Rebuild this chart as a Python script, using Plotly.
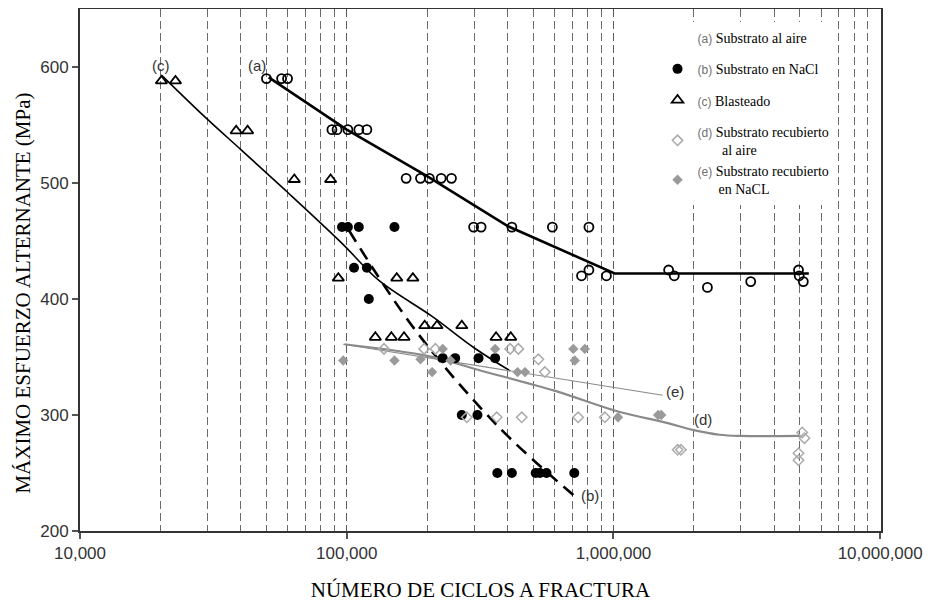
import math
import plotly.graph_objects as go

# ---------------- data ----------------
# (a) Substrato al aire  - open black circles
a_cycles = [50000, 57000, 60000, 88000, 92000, 101000, 111000, 119000,
            167000, 189000, 204000, 226000, 247000, 299000, 319000, 416000,
            590000, 809000, 759000, 809000, 941000, 1610000, 1690000, 2250000,
            3270000, 4940000, 4970000, 5150000]
a_stress = [590, 590, 590, 546, 546, 546, 546, 546,
            504, 504, 504, 504, 504, 462, 462, 462,
            462, 462, 420, 425, 420, 425, 420, 410,
            415, 425, 420, 415]

# (b) Substrato en NaCl - filled black circles
b_cycles = [96000, 101000, 111000, 151000, 106500, 119000, 121000,
            229000, 255000, 312000, 360000, 270000, 309000,
            367000, 416000, 511000, 530000, 561000, 713000]
b_stress = [462, 462, 462, 462, 427, 427, 400,
            349, 349, 349, 349, 300, 300,
            250, 250, 250, 250, 250, 250]

# (c) Blasteado - open triangles
c_cycles = [20200, 22800, 38500, 42500, 63600, 87000, 93000, 154000, 177000,
            196000, 218000, 270000, 128000, 147000, 164000, 363000, 412000]
c_stress = [588, 588, 545, 545, 503, 503, 418, 418, 418,
            377, 377, 377, 367, 367, 367, 367, 367]

# (d) Substrato recubierto al aire - open light-gray diamonds
d_cycles = [138000, 195000, 215000, 282000, 365000, 410000, 440000, 453000,
            523000, 553000, 737000, 928000, 1740000, 1790000, 5100000,
            5200000, 4940000, 4940000]
d_stress = [357, 357, 357, 298, 298, 357, 357, 298,
            348, 337, 298, 298, 270, 270, 285,
            280, 267, 261]

# (e) Substrato recubierto en NaCL - filled gray diamonds
e_cycles = [97000, 151000, 189000, 209000, 229000, 245000, 360000, 437000,
            466000, 707000, 781000, 716000, 1040000, 1470000, 1510000]
e_stress = [347, 347, 348, 337, 357, 347, 357, 337,
            337, 357, 357, 347, 298, 300, 300]

# fitted curves
curve_a_cycles = [51000, 100000, 200000, 400000, 1010000, 5400000]
curve_a_stress = [591, 546, 506, 463, 422, 422]

curve_b_cycles = [102000, 181000, 370000, 707000]
curve_b_stress = [459, 373, 290, 231]

curve_c_cycles = [20200, 30000, 40000, 60000, 96000, 132000, 209000, 300000, 410000]
curve_c_stress = [593, 555, 529, 492, 448, 416, 385, 358, 338]

curve_d_cycles = [98000, 200000, 310000, 600000, 1040000, 1600000, 2000000,
                  2500000, 3000000, 5000000]
curve_d_stress = [361, 351, 339, 321, 303, 293, 287, 283, 282, 282]

curve_e_cycles = [97000, 1530000]
curve_e_stress = [361, 317]

# axis ticks
x_tick_vals = [1e4, 1e5, 1e6, 1e7]
x_tick_text = ["10,000", "100,000", "1,000,000", "10,000,000"]
y_tick_vals = [200, 300, 400, 500, 600]

legend_tags = ["(a)", "(b)", "(c)", "(d)", "(e)"]
legend_names = ["Substrato al aire", "Substrato en NaCl", "Blasteado",
                "Substrato recubierto<br>\u00a0\u00a0\u00a0\u00a0\u00a0\u00a0\u00a0al aire",
                "Substrato recubierto<br>\u00a0\u00a0\u00a0\u00a0\u00a0\u00a0en NaCL"]

# ---------------- figure ----------------
SANS = "Liberation Sans, Arial, sans-serif"
SERIF = "Liberation Serif, Times New Roman, serif"


def lname(i):
    return ('<span style="font-family:Liberation Sans;font-size:12px;color:#707070">'
            + legend_tags[i] + '</span> ' + legend_names[i])


fig = go.Figure()

# curves
fig.add_trace(go.Scatter(x=curve_a_cycles, y=curve_a_stress, mode="lines",
                         line=dict(color="black", width=2.6), showlegend=False, hoverinfo="skip"))
fig.add_trace(go.Scatter(x=curve_c_cycles, y=curve_c_stress, mode="lines",
                         line=dict(color="black", width=1.6, shape="spline"),
                         showlegend=False, hoverinfo="skip"))
fig.add_trace(go.Scatter(x=curve_b_cycles, y=curve_b_stress, mode="lines",
                         line=dict(color="black", width=2.6, dash="13px,8px", shape="spline"),
                         showlegend=False, hoverinfo="skip"))
fig.add_trace(go.Scatter(x=curve_d_cycles, y=curve_d_stress, mode="lines",
                         line=dict(color="#8a8a8a", width=2.2, shape="spline"),
                         showlegend=False, hoverinfo="skip"))
fig.add_trace(go.Scatter(x=curve_e_cycles, y=curve_e_stress, mode="lines",
                         line=dict(color="#8a8a8a", width=1.1),
                         showlegend=False, hoverinfo="skip"))

# (a) legend entry without visible symbol (as in the original)
fig.add_trace(go.Scatter(x=[None], y=[None], mode="markers", name=lname(0),
                         marker=dict(symbol="circle-open", size=9, color="rgba(0,0,0,0)"),
                         legendgroup="a"))
fig.add_trace(go.Scatter(x=a_cycles, y=a_stress, mode="markers", showlegend=False,
                         marker=dict(symbol="circle-open", size=9, color="black",
                                     line=dict(width=1.8))))
fig.add_trace(go.Scatter(x=b_cycles, y=b_stress, mode="markers", name=lname(1),
                         legendgroup="b",
                         marker=dict(symbol="circle", size=10, color="black")))
fig.add_trace(go.Scatter(x=c_cycles, y=c_stress, mode="markers", name=lname(2),
                         legendgroup="c",
                         marker=dict(symbol="triangle-up-open", size=10, color="black",
                                     line=dict(width=1.8))))
fig.add_trace(go.Scatter(x=d_cycles, y=d_stress, mode="markers", name=lname(3),
                         legendgroup="de",
                         marker=dict(symbol="diamond-open", size=8, color="#ababab",
                                     line=dict(width=1.5))))
fig.add_trace(go.Scatter(x=e_cycles, y=e_stress, mode="markers", name=lname(4),
                         legendgroup="de",
                         marker=dict(symbol="diamond", size=8, color="#9a9a9a")))

# curve labels
curve_labels = [("(c)", 20200, 601), ("(a)", 46000, 601), ("(b)", 815000, 231),
                ("(e)", 1700000, 320), ("(d)", 2170000, 296)]
for txt, xv, yv in curve_labels:
    fig.add_annotation(x=math.log10(xv), y=yv, text=txt, showarrow=False,
                       font=dict(family=SANS, size=15, color="#333"))

# y-axis title (placed as in the original, slightly below the plot centre)
fig.add_annotation(xref="paper", yref="paper", x=-0.071, y=0.455,
                   xanchor="center", yanchor="middle", textangle=-90,
                   text="MÁXIMO ESFUERZO ALTERNANTE (MPa)", showarrow=False,
                   font=dict(family=SERIF, size=21, color="black"))

minor_vals = [m * 10 ** d for d in (4, 5, 6) for m in range(2, 10)]

fig.update_xaxes(type="log", range=[4, 7.003], automargin=False,
                 tickvals=x_tick_vals, ticktext=x_tick_text,
                 ticks="outside", ticklen=6, tickcolor="#555", tickwidth=1.5,
                 tickfont=dict(family=SANS, size=17, color="#333"),
                 showgrid=True, gridcolor="#5a5a5a", gridwidth=1, griddash="8px,4px",
                 minor=dict(tickvals=minor_vals, showgrid=True, gridcolor="#6a6a6a",
                            gridwidth=1, griddash="8px,4px", ticks=""),
                 showline=True, linecolor="#333", linewidth=2, mirror=True,
                 zeroline=False,
                 title=dict(text="NÚMERO DE CICLOS A FRACTURA",
                            font=dict(family=SERIF, size=21, color="black"), standoff=20))
fig.update_yaxes(range=[200, 650], tickvals=y_tick_vals, automargin=False,
                 ticks="outside", ticklen=6, tickcolor="#555", tickwidth=1.5,
                 tickfont=dict(family=SANS, size=17, color="#333"),
                 showgrid=False, zeroline=False,
                 showline=True, linecolor="#333", linewidth=2, mirror=True)

# the page adds an 8px body margin, so the figure is sized/offset to compensate
fig.update_layout(
    width=924, height=595,
    margin=dict(l=72, r=51, t=1, b=72),
    paper_bgcolor="white", plot_bgcolor="white",
    showlegend=True,
    legend=dict(x=0.721, xanchor="left", y=0.975, yanchor="top",
                bgcolor="white", borderwidth=0, tracegroupgap=10,
                font=dict(family=SERIF, size=14, color="black")),
)

fig.write_html("out.html")
